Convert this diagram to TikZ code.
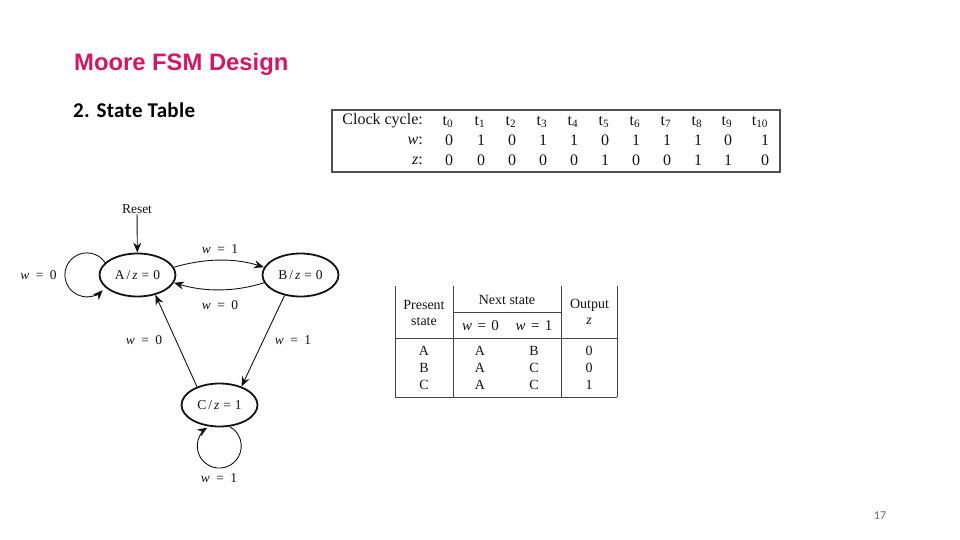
\documentclass[tikz,border=0pt]{standalone}
\usepackage{fontspec}
\setmainfont{Liberation Serif}
\newfontfamily\titlefont{Liberation Sans}
\newfontfamily\bodyfont{Carlito}
\usetikzlibrary{arrows.meta,shapes.geometric}
\definecolor{titlepink}{RGB}{214,22,100}
\definecolor{ink}{RGB}{20,20,20}
\definecolor{pagegrey}{RGB}{105,105,105}
\tikzset{
  state/.style={draw=ink,line width=1.8pt,ellipse,minimum width=76pt,minimum height=43pt,inner sep=0pt,font=\fontsize{13.5}{15}\selectfont,text=ink},
  arr/.style={draw=ink,line width=0.9pt,-{Stealth[length=10pt,width=8pt]}},
  lbl/.style={font=\fontsize{13.5}{15}\selectfont,text=ink,inner sep=0pt},
  cyc/.style={font=\fontsize{16}{18}\selectfont,text=ink,inner sep=0pt},
  tbl/.style={font=\fontsize{14}{16}\selectfont,text=ink,inner sep=0pt},
  rule/.style={draw=ink!80,line width=1pt}
}
\newcommand{\wv}[1]{\textit{w}\hspace{6.5pt}=\hspace{6.5pt}#1}
\newcommand{\zv}[2]{#1\hspace{2pt}/\hspace{2pt}\textit{z}\hspace{4pt}=\hspace{4pt}#2}
\newcommand{\tv}[1]{{\fontsize{15}{16}\selectfont\textit{w}\hspace{5.5pt}=\hspace{5.5pt}#1}}
\begin{document}
\begin{tikzpicture}[x=1pt,y=-1pt]
\useasboundingbox[fill=white] (0,0) rectangle (960,540);
\node[anchor=base west,inner sep=0pt,text=titlepink,font=\titlefont\bfseries\fontsize{23.8}{28}\selectfont] (title) at (74,70.5) {Moore FSM Design};
\node[anchor=base west,inner sep=0pt,text=black,font=\bodyfont\bfseries\fontsize{21}{24}\selectfont\addfontfeature{LetterSpace=1.5}] (sub) at (73,118) {2. State Table};
\node[anchor=center,inner sep=0pt,text=pagegrey,font=\bodyfont\fontsize{12}{14}\selectfont] (page) at (880,516) {17};
% FSM
\node[state] (A) at (137.5,275) {\zv{A}{0}};
\node[state] (B) at (300.5,275) {\zv{B}{0}};
\node[state] (C) at (219.5,405) {\zv{C}{1}};
\node[lbl] (reset) at (137,209.5) {Reset};
\draw[arr] (reset) -- (A);
\draw[arr] (A.12) .. controls (205,258) and (235,258) .. (B.168);
\draw[arr] (B.192) .. controls (235,292) and (205,292) .. (A.-12);
\draw[arr] (C.141) -- (A.-48);
\draw[arr] (B.-128) -- (C.40);
\draw[arr] (A.159) arc[start angle=-34,end angle=-316,radius=22];
\draw[arr] (C.-65) arc[start angle=-62,end angle=237,radius=22];
\node[lbl] (l1) at (220,249) {\wv{1}};
\node[lbl] (l2) at (220,305) {\wv{0}};
\node[lbl] (l3) at (38.5,275) {\wv{0}};
\node[lbl] (l4) at (144,340) {\wv{0}};
\node[lbl] (l5) at (293,340) {\wv{1}};
\node[lbl] (l6) at (219,478) {\wv{1}};
% clock table
\draw[draw=ink!75,line width=1.1pt] (332,110) rectangle (780,172);
\node[cyc,anchor=east] (h1) at (423,121) {Clock cycle:};
\node[cyc,anchor=east] (h2) at (423,140.5) {\textit{w}:};
\node[cyc,anchor=east] (h3) at (423,161) {\textit{z}:};
\foreach \x/\s/\w/\z in {448/0/0/0,480/1/1/0,511/2/0/0,542/3/1/0,573/4/1/0,604/5/0/1,635/6/1/0,666/7/1/0,697/8/1/1,727/9/0/1}{
  \node[cyc] (t\s) at (\x,122) {t\textsubscript{\s}};
  \node[cyc] (w\s) at (\x+1,140) {\w};
  \node[cyc] (z\s) at (\x+1,160.5) {\z};
}
\node[cyc] (t10) at (760,122) {t\textsubscript{10}};
\node[cyc] (w10) at (765,140) {1};
\node[cyc] (z10) at (765,160.5) {0};
% state table
\draw[rule] (395,286) -- (395,397);
\draw[rule] (453,286) -- (453,397);
\draw[rule] (561,286) -- (561,397);
\draw[rule] (617,286) -- (617,397);
\draw[rule] (453,312) -- (561,312);
\draw[rule] (395,338.5) -- (617,338.5);
\draw[rule] (395,397) -- (617,397);
\node[tbl] (p1) at (424,305) {Present};
\node[tbl] (p2) at (424,321.5) {state};
\node[tbl] (n1) at (507,300) {Next state};
\node[tbl] (o1) at (589.5,305.5) {Output};
\node[tbl] (o2) at (589,321) {\textit{z}};
\node[tbl] (h0) at (480.5,326) {\tv{0}};
\node[tbl] (h1b) at (534,326) {\tv{1}};
\foreach \y/\a/\b/\c/\d/\n in {351/A/A/B/0/1,368/B/A/C/0/2,385/C/A/C/1/3}{
  \node[tbl] (ra\n) at (424,\y) {\a};
  \node[tbl] (rb\n) at (480,\y) {\b};
  \node[tbl] (rc\n) at (534,\y) {\c};
  \node[tbl] (rd\n) at (589,\y) {\d};
}
\end{tikzpicture}
\end{document}
